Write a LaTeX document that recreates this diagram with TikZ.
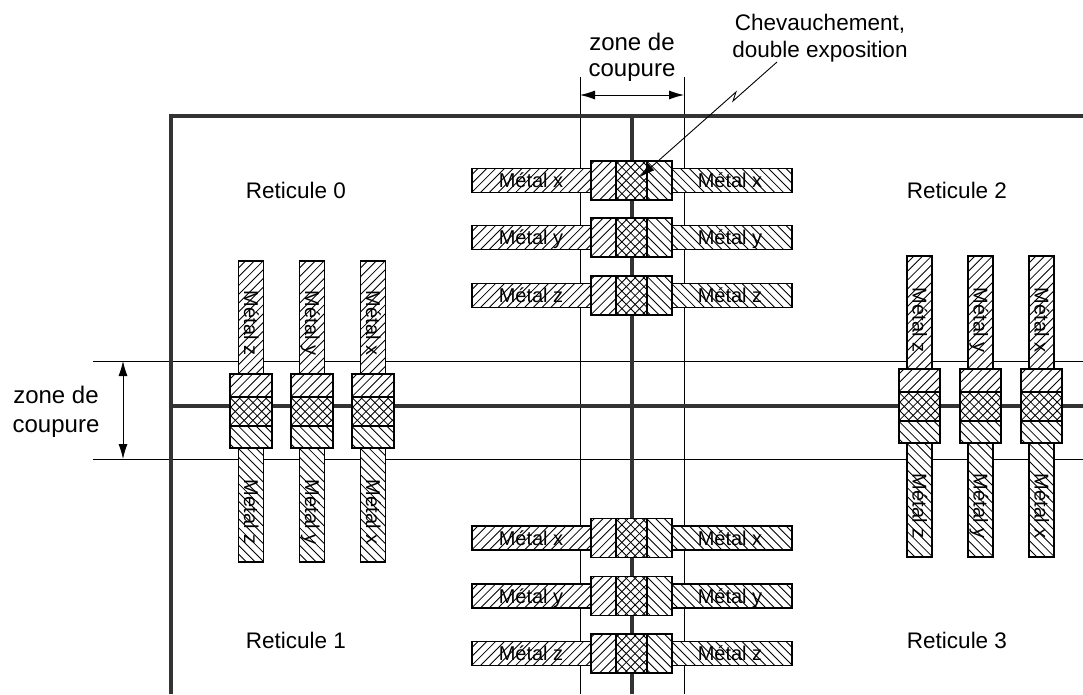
\documentclass[tikz,border=0pt]{standalone}
\usepackage{fontspec}
\setmainfont{Liberation Sans}
\usetikzlibrary{arrows.meta}
% hatched box: x1 y1 x2 y2 kind (1 = /, 2 = \, 3 = cross)
\newcommand\hatchbox[5]{%
  \fill[white] (#1,#2) rectangle (#3,#4);
  \begin{scope}
    \clip (#1,#2) rectangle (#3,#4);
    \ifnum#5=2\relax\else
      \foreach \k in {-150,-141.2,...,150} {\draw[hatchln] (#1+\k,#4) -- ++(300,-300);}
    \fi
    \ifnum#5=1\relax\else
      \foreach \k in {-150,-141.2,...,150} {\draw[hatchln] (#1+\k,#2) -- ++(300,300);}
    \fi
  \end{scope}
  \draw[boxln] (#1,#2) rectangle (#3,#4);
}
\begin{document}
\begin{tikzpicture}[x=1pt,y=-1pt,
  thinln/.style={line width=0.9pt, draw=black},
  heavy/.style={line width=4pt, draw=black!80},
  hatchln/.style={line width=0.85pt, draw=black},
  boxln/.style={line width=1.2pt, draw=black},
  lab/.style={font=\fontsize{20}{20}\selectfont, inner sep=0pt, anchor=base},
  big/.style={font=\fontsize{22.5}{22.5}\selectfont, inner sep=0pt, anchor=base},
  zc/.style={font=\fontsize{24}{24}\selectfont, inner sep=0pt, anchor=base},
  tipA/.style={{Latex[length=15pt,width=9pt]}-{Latex[length=15pt,width=9pt]}},
  tipB/.style={-{Latex[length=15pt,width=9pt]}}
]
\useasboundingbox (0,0) rectangle (1083,694);

% thin cut-zone lines
\coordinate (vLt) at (580,77);  \coordinate (vLb) at (580,694);
\coordinate (vRt) at (684,77);  \coordinate (vRb) at (684,694);
\coordinate (hTl) at (93,361);  \coordinate (hTr) at (1083,361);
\coordinate (hBl) at (93,459);  \coordinate (hBr) at (1083,459);
\draw[thinln] (vLt) -- (vLb);
\draw[thinln] (vRt) -- (vRb);
\draw[thinln] (hTl) -- (hTr);
\draw[thinln] (hBl) -- (hBr);

% heavy reticle borders
\coordinate (tR) at (1083,116); \coordinate (tL) at (171,116); \coordinate (bL) at (171,694);
\coordinate (mL) at (171,406);  \coordinate (mR) at (1083,406);
\coordinate (cT) at (632,116);  \coordinate (cB) at (632,694);
\draw[heavy] (tR) -- (tL) -- (bL);
\draw[heavy] (mL) -- (mR);
\draw[heavy] (cT) -- (cB);

% horizontal metal rows
\foreach \c/\t/\i in {180.5/x/1, 237.5/y/2, 295.5/z/3, 538/x/4, 596/y/5, 653.5/z/6}{
  \hatchbox{472}{\c-12}{591}{\c+12}{1}
  \hatchbox{672}{\c-12}{792}{\c+12}{2}
  \hatchbox{591}{\c-19.5}{616}{\c+19.5}{1}
  \hatchbox{616}{\c-19.5}{647}{\c+19.5}{3}
  \hatchbox{647}{\c-19.5}{672}{\c+19.5}{2}
  \node[lab] (ml\i) at (531,\c+7) {Métal \t};
  \node[lab] (mr\i) at (730,\c+7) {Métal \t};
}

% vertical metal columns, left
\foreach \cx/\t/\j in {251/z/1, 312/y/2, 373/x/3}{
  \hatchbox{\cx-12.5}{261}{\cx+12.5}{374}{1}
  \hatchbox{\cx-12.5}{448}{\cx+12.5}{562}{2}
  \hatchbox{\cx-21}{374}{\cx+21}{397}{1}
  \hatchbox{\cx-21}{397}{\cx+21}{426}{3}
  \hatchbox{\cx-21}{426}{\cx+21}{448}{2}
  \node[lab, rotate=-90] (lvt\j) at (\cx-7,323) {Métal \t};
  \node[lab, rotate=-90] (lvb\j) at (\cx-7,512) {Métal \t};
}

% vertical metal columns, right
\foreach \cx/\t/\j in {919.5/z/1, 980.5/y/2, 1041.5/x/3}{
  \hatchbox{\cx-12.5}{256}{\cx+12.5}{369}{1}
  \hatchbox{\cx-12.5}{443}{\cx+12.5}{557}{2}
  \hatchbox{\cx-20.5}{369}{\cx+20.5}{392}{1}
  \hatchbox{\cx-20.5}{392}{\cx+20.5}{421}{3}
  \hatchbox{\cx-20.5}{421}{\cx+20.5}{443}{2}
  \node[lab, rotate=-90] (rvt\j) at (\cx-7,320) {Métal \t};
  \node[lab, rotate=-90] (rvb\j) at (\cx-7,506) {Métal \t};
}

% reticle labels
\node[big] (r0) at (296,198) {Reticule 0};
\node[big] (r1) at (296,648) {Reticule 1};
\node[big] (r2) at (957,198) {Reticule 2};
\node[big] (r3) at (957,648) {Reticule 3};

% cut zone labels and arrows
\node[zc] (zt1) at (632,50) {zone de};
\node[zc] (zt2) at (632,76) {coupure};
\node[zc] (zl1) at (56,403) {zone de};
\node[zc] (zl2) at (56,432) {coupure};
\coordinate (aTl) at (580,95); \coordinate (aTr) at (684,95);
\coordinate (aLt) at (123,361); \coordinate (aLb) at (123,459);
\draw[thinln, tipA] (aTl) -- (aTr);
\draw[thinln, tipA] (aLt) -- (aLb);

% overlap label and lightning arrow
\node[big] (ch1) at (820,30) {Chevauchement,};
\node[big] (ch2) at (820,57) {double exposition};
\coordinate (l0) at (777,62);
\coordinate (l1) at (733,101);
\coordinate (l2) at (736,92);
\coordinate (l3) at (640,177);
\draw[thinln, tipB] (l0) -- (l1) -- (l2) -- (l3);
\end{tikzpicture}
\end{document}
